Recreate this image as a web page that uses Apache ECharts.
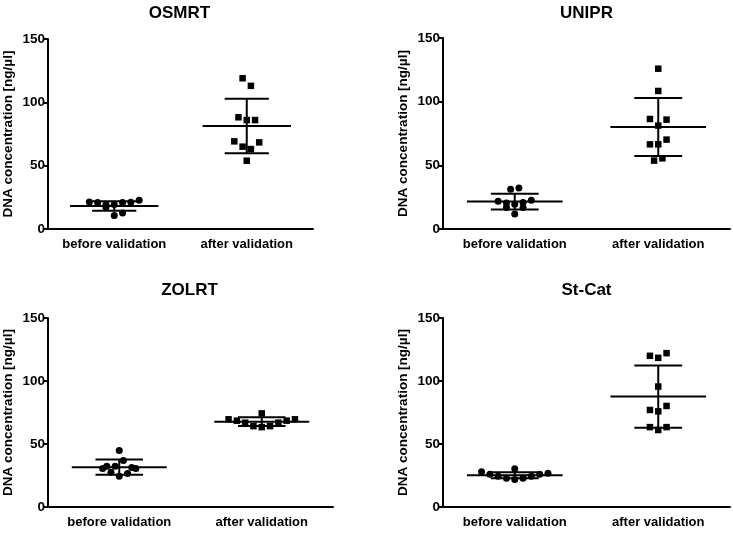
<!DOCTYPE html>
<html>
<head>
<meta charset="utf-8">
<script src="https://cdn.jsdelivr.net/npm/echarts@6/dist/echarts.min.js"></script>
<style>
  html, body { margin: 0; padding: 0; background: #fff; }
  #chart { width: 733px; height: 533px; }
</style>
</head>
<body>
<div id="chart"></div>
<script>
// categories + y scale
const categories = ['before validation', 'after validation']
const titles = ['OSMRT', 'UNIPR', 'ZOLRT', 'St-Cat']
const yName = 'DNA concentration [ng/µl]'
const yMin = 0
const yMax = 150
const yStep = 50

// single measurements, roughly left-to-right as plotted
const osmrtBefore = [21.4, 20.9, 19.3, 16.9, 10.6, 19.3, 12.7, 20.9, 21.1, 22.7]
const osmrtAfter = [69.2, 88.2, 119, 65, 86, 53.9, 113, 63.1, 86, 68.4]
const unipiBefore = [21.7, 20.4, 16.8, 31.2, 19.4, 11.8, 32.2, 16.8, 20.9, 22.5]
const unipiAfter = [86.4, 66.5, 53.7, 125.9, 108.4, 81.2, 66.5, 55.5, 85.9, 70.2]
const zolrtBefore = [30.5, 27.6, 32.4, 24.4, 44.9, 32.4, 26.5, 36.9, 30.5, 31.3]
const zolrtAfter = [69.6, 68.5, 66.9, 64.2, 74.3, 63.4, 64.2, 66.9, 68.5, 69.6]
const stcatBefore = [27.9, 26.0, 24.4, 22.8, 30.3, 21.8, 22.8, 24.4, 26.0, 26.8]
const stcatAfter = [120, 77, 63.4, 118.4, 95.6, 75.9, 61.1, 122.1, 80.2, 63.4]

// mean and SD as drawn (before, after)
const osmrtMean = [18.2, 81.3]
const osmrtSd = [3.8, 21.5]
const unipiMean = [21.5, 80.1]
const unipiSd = [6.25, 22.8]
const zolrtMean = [31.6, 67.7]
const zolrtSd = [6.1, 3.45]
const stcatMean = [25.2, 87.6]
const stcatSd = [2.4, 24.7]

const panels = [
  { before: osmrtBefore, after: osmrtAfter, mean: osmrtMean, sd: osmrtSd },
  { before: unipiBefore, after: unipiAfter, mean: unipiMean, sd: unipiSd },
  { before: zolrtBefore, after: zolrtAfter, mean: zolrtMean, sd: zolrtSd },
  { before: stcatBefore, after: stcatAfter, mean: stcatMean, sd: stcatSd },
]

const grids = [
  { left: 46, top: 39, width: 267, height: 190 },
  { left: 443, top: 38, width: 287, height: 191 },
  { left: 46, top: 318, width: 287, height: 189 },
  { left: 443, top: 318, width: 287, height: 189 },
]

const FONT = 'Liberation Sans, Arial, sans-serif'
const INK = '#000'

// points close in value share a row and get spread sideways (like a dot plot)
function rowOffsets(values, span, gap) {
  const order = values.map((v, i) => i).sort((a, b) => values[a] - values[b])
  const rows = []
  let cur = null
  order.forEach(i => {
    if (!cur || values[i] - values[cur[0]] > span) {
      cur = [i]
      rows.push(cur)
    } else {
      cur.push(i)
    }
  })
  const offs = new Array(values.length).fill(0)
  rows.forEach(r => {
    r.sort((a, b) => a - b)
    r.forEach((i, k) => {
      offs[i] = (k - (r.length - 1) / 2) * gap
    })
  })
  return offs
}

function dots(values, cat, gi, symbol, size) {
  const offs = rowOffsets(values, 6.5, 8.3)
  return {
    type: 'scatter',
    xAxisIndex: gi,
    yAxisIndex: gi,
    symbol: symbol,
    symbolSize: size,
    itemStyle: { color: INK, opacity: 1 },
    z: 3,
    silent: true,
    data: values.map((v, i) => ({ value: [cat, v], symbolOffset: [offs[i], 0] })),
  }
}

function errBars(mean, sd, gi) {
  return {
    type: 'custom',
    xAxisIndex: gi,
    yAxisIndex: gi,
    silent: true,
    z: 2,
    encode: { x: 0, y: 1 },
    data: mean.map((m, i) => [i, m, sd[i]]),
    renderItem(params, api) {
      const c = api.value(0)
      const m = api.value(1)
      const s = api.value(2)
      const mid = api.coord([c, m])
      const top = api.coord([c, m + s])[1]
      const bot = api.coord([c, m - s])[1]
      const band = api.size([1, 0])[0]
      const st = { stroke: INK, lineWidth: 2 }
      const line = (x1, y1, x2, y2) => ({ type: 'line', shape: { x1, y1, x2, y2 }, style: st })
      return {
        type: 'group',
        children: [
          line(mid[0] - band / 3, mid[1], mid[0] + band / 3, mid[1]),
          line(mid[0] - band / 6, top, mid[0] + band / 6, top),
          line(mid[0] - band / 6, bot, mid[0] + band / 6, bot),
          line(mid[0], top, mid[0], bot),
        ],
      }
    },
  }
}

const chart = echarts.init(document.getElementById('chart'))

const option = {
  backgroundColor: '#fff',
  animation: false,
  title: titles.map((t, i) => ({
    text: t,
    left: grids[i].left + grids[i].width / 2,
    top: i < 2 ? 5 : 282,
    textAlign: 'center',
    padding: 0,
    textStyle: { fontFamily: FONT, fontSize: 17, fontWeight: 'bold', color: INK },
  })),
  grid: grids,
  xAxis: grids.map((g, i) => ({
    type: 'category',
    gridIndex: i,
    data: categories,
    boundaryGap: true,
    axisLine: { lineStyle: { color: INK, width: 2 } },
    axisTick: { alignWithLabel: true, length: 5, lineStyle: { color: INK, width: 2 } },
    axisLabel: { interval: 0, color: INK, fontFamily: FONT, fontSize: 13, fontWeight: 'bold', margin: 9 },
    splitLine: { show: false },
  })),
  yAxis: grids.map((g, i) => ({
    type: 'value',
    gridIndex: i,
    min: yMin,
    max: yMax,
    interval: yStep,
    name: yName,
    nameLocation: 'middle',
    nameGap: 33,
    nameTextStyle: { color: INK, fontFamily: FONT, fontSize: 13.5, fontWeight: 'bold' },
    axisLine: { show: true, lineStyle: { color: INK, width: 2 } },
    axisTick: { show: true, length: 5, lineStyle: { color: INK, width: 2 } },
    axisLabel: { color: INK, fontFamily: FONT, fontSize: 13.5, fontWeight: 'bold', margin: 3 },
    splitLine: { show: false },
  })),
  series: [],
}

panels.forEach((p, i) => {
  option.series.push(errBars(p.mean, p.sd, i))
  option.series.push(dots(p.before, 0, i, 'circle', 7))
  option.series.push(dots(p.after, 1, i, 'rect', 6.5))
})

chart.setOption(option)
</script>
</body>
</html>
